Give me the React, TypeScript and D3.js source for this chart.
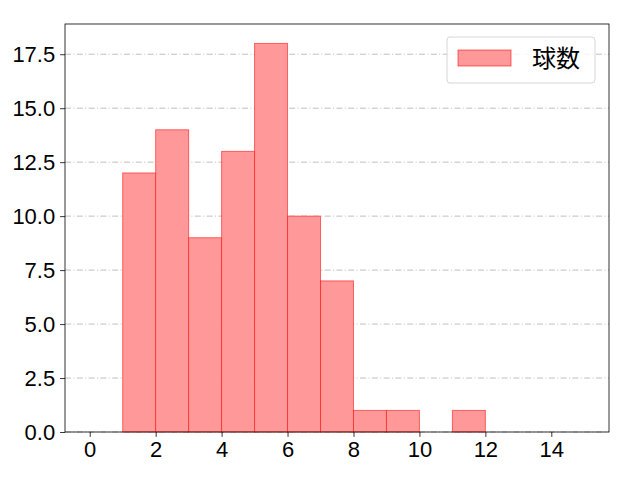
import React, { useRef, useEffect } from "react";
import * as d3 from "d3";

// histogram bins: [start, end) and count
const binStarts = [1, 2, 3, 4, 5, 6, 7, 8, 9, 10, 11];
const binCounts = [12, 14, 9, 13, 18, 10, 7, 1, 1, 0, 1];
const xTicks = [0, 2, 4, 6, 8, 10, 12, 14];
const yTicks = [0, 2.5, 5, 7.5, 10, 12.5, 15, 17.5];
const seriesName = "球数";

const App: React.FC = () => {
  const svgRef = useRef<SVGSVGElement>(null);
  const width = 640;
  const height = 480;

  useEffect(() => {
    if (!svgRef.current) return;
    const svg = d3.select(svgRef.current);
    svg.selectAll("*").remove();

    const margin = { top: 24, right: 31, bottom: 48, left: 65 };
    const font = "Liberation Sans, Arial, sans-serif";
    const fontSize = 22;

    const x = d3
      .scaleLinear()
      .domain([-0.75, 15.75])
      .range([margin.left, width - margin.right]);
    const y = d3
      .scaleLinear()
      .domain([0, 18.9])
      .range([height - margin.bottom, margin.top]);

    // grid lines (behind bars)
    svg
      .append("g")
      .selectAll("line")
      .data(yTicks)
      .enter()
      .append("line")
      .attr("x1", margin.left)
      .attr("x2", width - margin.right)
      .attr("y1", (d) => y(d))
      .attr("y2", (d) => y(d))
      .attr("stroke", "#b0b0b0")
      .attr("stroke-width", 0.8)
      .attr("stroke-dasharray", "6,2.4,1,2.4");

    // bars
    svg
      .append("g")
      .selectAll("rect")
      .data(binStarts.map((s, i) => ({ s, c: binCounts[i] })).filter((d) => d.c > 0))
      .enter()
      .append("rect")
      .attr("x", (d) => x(d.s))
      .attr("width", (d) => x(d.s + 1) - x(d.s))
      .attr("y", (d) => y(d.c))
      .attr("height", (d) => y(0) - y(d.c))
      .attr("fill", "#ff9999")
      .attr("stroke", "rgba(255,0,0,0.55)")
      .attr("stroke-width", 1);

    // axes
    const xAxis = svg
      .append("g")
      .attr("transform", `translate(0,${height - margin.bottom})`)
      .call(
        d3
          .axisBottom(x)
          .tickValues(xTicks)
          .tickSize(4.9)
          .tickPadding(4.9)
          .tickFormat(d3.format("d"))
      );
    xAxis.select(".domain").remove();
    xAxis.selectAll("text").attr("font-size", fontSize).attr("font-family", font).attr("fill", "#000");
    xAxis.selectAll("line").attr("stroke", "#000").attr("stroke-width", 0.8);

    const yAxis = svg
      .append("g")
      .attr("transform", `translate(${margin.left},0)`)
      .call(
        d3
          .axisLeft(y)
          .tickValues(yTicks)
          .tickSize(4.9)
          .tickPadding(4.9)
          .tickFormat(d3.format(".1f"))
      );
    yAxis.select(".domain").remove();
    yAxis.selectAll("text").attr("font-size", fontSize).attr("font-family", font).attr("fill", "#000");
    yAxis.selectAll("line").attr("stroke", "#000").attr("stroke-width", 0.8);

    // frame
    svg
      .append("rect")
      .attr("x", margin.left)
      .attr("y", margin.top)
      .attr("width", width - margin.left - margin.right)
      .attr("height", height - margin.top - margin.bottom)
      .attr("fill", "none")
      .attr("stroke", "#000")
      .attr("stroke-width", 0.8);

    // legend
    const lg = svg.append("g").attr("transform", "translate(447,37)");
    lg.append("rect")
      .attr("width", 148)
      .attr("height", 46)
      .attr("rx", 3)
      .attr("fill", "rgba(255,255,255,0.8)")
      .attr("stroke", "#d6d6d6")
      .attr("stroke-width", 1);
    lg.append("rect")
      .attr("x", 11)
      .attr("y", 13)
      .attr("width", 53)
      .attr("height", 16)
      .attr("fill", "#ff9999")
      .attr("stroke", "rgba(255,0,0,0.55)");
    lg.append("text")
      .attr("x", 85)
      .attr("y", 30)
      .attr("font-size", 24)
      .attr("font-family", "Noto Sans CJK JP, sans-serif")
      .attr("fill", "#000")
      .text(seriesName);
  }, []);

  return (
    <svg
      ref={svgRef}
      width={width}
      height={height}
      style={{ position: "absolute", left: 0, top: 0, background: "#fff" }}
    ></svg>
  );
};

export default App;
